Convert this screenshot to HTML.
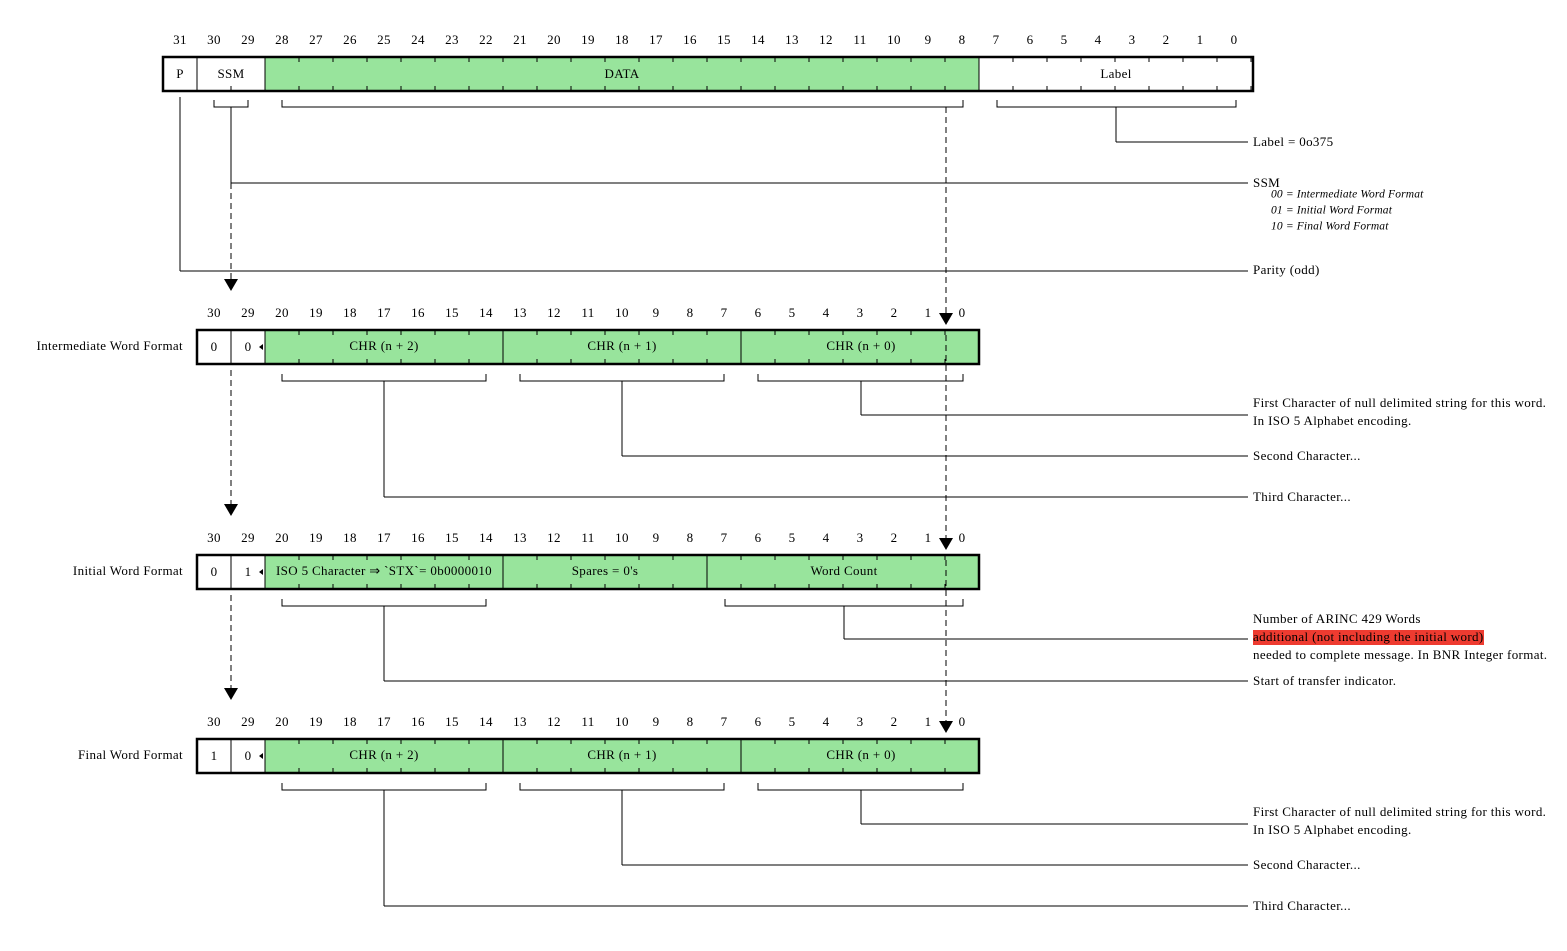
<!DOCTYPE html>
<html><head><style>
body{margin:0;background:#fff}
svg{display:block}
text{font-family:"Liberation Serif",serif;font-size:13px;letter-spacing:0.35px;fill:#000}
.n{text-anchor:middle;dominant-baseline:middle}
.l{dominant-baseline:middle}
.r{text-anchor:end;dominant-baseline:middle}
.i{font-style:italic;font-size:11.5px;letter-spacing:0.15px}
</style></head><body>
<svg id="s" width="1567" height="951" xmlns="http://www.w3.org/2000/svg">
<g id="g" stroke="#000" fill="none"></g>
<g class="n">
<text class="n" x="180" y="41">31</text><text class="n" x="214" y="41">30</text><text class="n" x="248" y="41">29</text><text class="n" x="282" y="41">28</text><text class="n" x="316" y="41">27</text><text class="n" x="350" y="41">26</text><text class="n" x="384" y="41">25</text><text class="n" x="418" y="41">24</text><text class="n" x="452" y="41">23</text><text class="n" x="486" y="41">22</text><text class="n" x="520" y="41">21</text><text class="n" x="554" y="41">20</text><text class="n" x="588" y="41">19</text><text class="n" x="622" y="41">18</text><text class="n" x="656" y="41">17</text><text class="n" x="690" y="41">16</text><text class="n" x="724" y="41">15</text><text class="n" x="758" y="41">14</text><text class="n" x="792" y="41">13</text><text class="n" x="826" y="41">12</text><text class="n" x="860" y="41">11</text><text class="n" x="894" y="41">10</text><text class="n" x="928" y="41">9</text><text class="n" x="962" y="41">8</text><text class="n" x="996" y="41">7</text><text class="n" x="1030" y="41">6</text><text class="n" x="1064" y="41">5</text><text class="n" x="1098" y="41">4</text><text class="n" x="1132" y="41">3</text><text class="n" x="1166" y="41">2</text><text class="n" x="1200" y="41">1</text><text class="n" x="1234" y="41">0</text>
</g>
<text class="n" x="180" y="75">P</text><text class="n" x="231" y="75">SSM</text><text class="n" x="622" y="75">DATA</text><text class="n" x="1116" y="75">Label</text>

<g id="nums"></g>

<text class="r" x="183" y="347">Intermediate Word Format</text>
<text class="r" x="183" y="572">Initial Word Format</text>
<text class="r" x="183" y="756">Final Word Format</text>

<text class="n" x="214" y="348">0</text><text class="n" x="248" y="348">0</text>
<text class="n" x="384" y="347">CHR (n + 2)</text><text class="n" x="622" y="347">CHR (n + 1)</text><text class="n" x="861" y="347">CHR (n + 0)</text>
<text class="n" x="214" y="573">0</text><text class="n" x="248" y="573">1</text>
<text class="n" x="384" y="572">ISO 5 Character ⇒ `STX`= 0b0000010</text><text class="n" x="605" y="572">Spares = 0's</text><text class="n" x="844" y="572">Word Count</text>
<text class="n" x="214" y="757">1</text><text class="n" x="248" y="757">0</text>
<text class="n" x="384" y="756">CHR (n + 2)</text><text class="n" x="622" y="756">CHR (n + 1)</text><text class="n" x="861" y="756">CHR (n + 0)</text>

<text class="l" x="1253" y="143">Label = 0o375</text>
<text class="l" x="1253" y="184">SSM</text>
<text class="l i" x="1271" y="195">00 = Intermediate Word Format</text>
<text class="l i" x="1271" y="211">01 = Initial Word Format</text>
<text class="l i" x="1271" y="227">10 = Final Word Format</text>
<text class="l" x="1253" y="271">Parity (odd)</text>
<text class="l" x="1253" y="404">First Character of null delimited string for this word.</text>
<text class="l" x="1253" y="422">In ISO 5 Alphabet encoding.</text>
<text class="l" x="1253" y="457">Second Character...</text>
<text class="l" x="1253" y="498">Third Character...</text>
<text class="l" x="1253" y="620">Number of ARINC 429 Words</text>
<rect x="1253" y="630" width="231" height="15" fill="#ee3b30"/>
<text class="l" x="1253" y="638">additional (not including the initial word)</text>
<text class="l" x="1253" y="656">needed to complete message. In BNR Integer format.</text>
<text class="l" x="1253" y="682">Start of transfer indicator.</text>
<text class="l" x="1253" y="813">First Character of null delimited string for this word.</text>
<text class="l" x="1253" y="831">In ISO 5 Alphabet encoding.</text>
<text class="l" x="1253" y="866">Second Character...</text>
<text class="l" x="1253" y="907">Third Character...</text>
</svg>
<script>
var g=document.getElementById('g'),NS='http://www.w3.org/2000/svg';
function el(t,a){var e=document.createElementNS(NS,t);for(var k in a)e.setAttribute(k,a[k]);g.appendChild(e);return e}
function L(x1,y1,x2,y2,d){var e=el('line',{x1:x1,y1:y1,x2:x2,y2:y2,'stroke-width':1});if(d)e.setAttribute('stroke-dasharray','6,4');}
function R(x,y,w,h,f){el('rect',{x:x,y:y,width:w,height:h,fill:f,'stroke-width':1})}
function ticks(x1,x2,y,h,bottomOnly){for(var x=x1+34;x<x2-1;x+=34){if(!bottomOnly)L(x,y,x,y+5);L(x,y+h-5,x,y+h);}}
function tri(x,y){el('path',{d:'M'+(x-7)+' '+(y-12)+'L'+(x+7)+' '+(y-12)+'L'+x+' '+y+'Z',fill:'#000',stroke:'none'})}
function brk(x1,x2,y){el('path',{d:'M'+x1+' '+(y-7)+'V'+y+'H'+x2+'V'+(y-7),'stroke-width':1})}
var G='#98e49c';
R(163,57,34,34,'#fff');R(197,57,68,34,'#fff');R(265,57,714,34,G);R(979,57,274,34,'#fff');
ticks(197,265,57,34,true);ticks(265,979,57,34);ticks(979,1253,57,34);
el('rect',{x:163,y:57,width:1090,height:34,'stroke-width':2.5,fill:'none'});
L(979,57,979,91);L(265,57,265,91);L(197,57,197,91);
brk(214,248,107);brk(282,963,107);brk(997,1236,107);
L(1116,107,1116,142);L(1116,142,1248,142);
L(231,107,231,183);L(231,183,1248,183);
L(180,97,180,271);L(180,271,1248,271);
L(231,183,231,280,1);tri(231,291);
L(946,107,946,314,1);tri(946,325);
function reg(y,parts){R(197,y,34,34,'#fff');R(231,y,34,34,'#fff');
 var x=265;parts.forEach(function(p){R(x,y,p*34,34,G);ticks(x,x+p*34,y,34);x+=p*34;});
 el('rect',{x:197,y:y,width:782,height:34,'stroke-width':2.5,fill:'none'});L(265,y,265,y+34);
 el('path',{d:'M259 '+(y+17)+'L263 '+(y+14)+'L263 '+(y+20)+'Z',fill:'#000',stroke:'none'});
 var n=document.getElementById('nums'),lbl=[30,29,20,19,18,17,16,15,14,13,12,11,10,9,8,7,6,5,4,3,2,1,0];
 lbl.forEach(function(v,i){var t=document.createElementNS(NS,'text');t.setAttribute('x',214+i*34);t.setAttribute('y',y-16);t.setAttribute('class','n');t.textContent=v;n.appendChild(t);});
}
reg(330,[7,7,7]);reg(555,[7,6,8]);reg(739,[7,7,7]);
brk(282,486,381);brk(520,724,381);brk(758,963,381);
L(861,381,861,415);L(861,415,1248,415);L(622,381,622,456);L(622,456,1248,456);L(384,381,384,497);L(384,497,1248,497);
L(231,370,231,505,1);tri(231,516);
brk(282,486,606);brk(725,963,606);
L(844,606,844,639);L(844,639,1248,639);L(384,606,384,681);L(384,681,1248,681);
L(231,595,231,688,1);tri(231,700);
brk(282,486,790);brk(520,724,790);brk(758,963,790);
L(861,790,861,824);L(861,824,1248,824);L(622,790,622,865);L(622,865,1248,865);L(384,790,384,906);L(384,906,1248,906);
L(946,335,946,538,1);tri(946,550);L(946,560,946,722,1);tri(946,733);
</script>
</body></html>
